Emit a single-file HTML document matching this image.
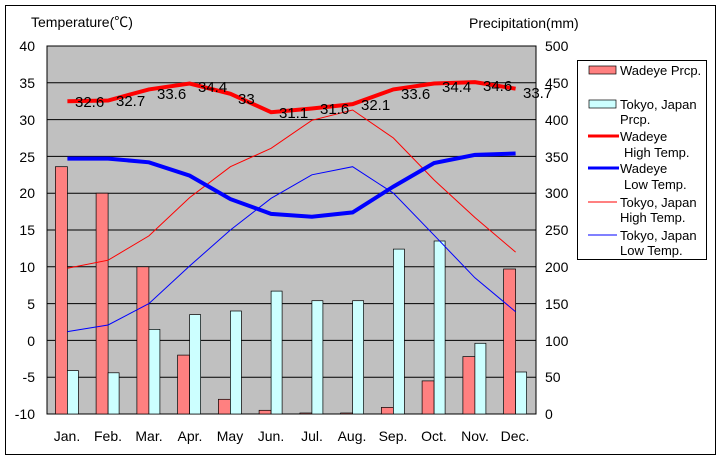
<!DOCTYPE html>
<html><head><meta charset="utf-8"><style>
body{margin:0;background:#fff}
svg{display:block}
text{font-family:"Liberation Sans","Noto Sans CJK JP",sans-serif;fill:#000}
</style></head><body>
<svg width="720" height="460" xmlns="http://www.w3.org/2000/svg">
<rect x="5.5" y="5.5" width="710" height="449" fill="#fff" stroke="#000" stroke-width="1"/>
<rect x="47" y="46" width="489" height="368" fill="#c0c0c0" stroke="#000" stroke-width="1"/>
<g stroke="#000" stroke-width="1">
<line x1="47" y1="82.8" x2="536" y2="82.8"/><line x1="47" y1="119.6" x2="536" y2="119.6"/>
<line x1="47" y1="156.4" x2="536" y2="156.4"/><line x1="47" y1="193.2" x2="536" y2="193.2"/>
<line x1="47" y1="230" x2="536" y2="230"/><line x1="47" y1="266.8" x2="536" y2="266.8"/>
<line x1="47" y1="303.6" x2="536" y2="303.6"/><line x1="47" y1="340.4" x2="536" y2="340.4"/>
<line x1="47" y1="377.2" x2="536" y2="377.2"/>
</g>
<g font-size="14" text-anchor="end">
<text x="35" y="51">40</text><text x="35" y="88">35</text><text x="35" y="125">30</text><text x="35" y="162">25</text><text x="35" y="198">20</text><text x="35" y="235">15</text><text x="35" y="272">10</text><text x="35" y="309">5</text><text x="35" y="346">0</text><text x="35" y="382">-5</text><text x="35" y="419">-10</text>
</g>
<g font-size="14">
<text x="545" y="51">500</text><text x="545" y="88">450</text><text x="545" y="125">400</text><text x="545" y="162">350</text><text x="545" y="198">300</text><text x="545" y="235">250</text><text x="545" y="272">200</text><text x="545" y="309">150</text><text x="545" y="346">100</text><text x="545" y="382">50</text><text x="545" y="419">0</text>
</g>
<text x="31" y="27" font-size="14">Temperature(℃)</text>
<text x="469" y="28" font-size="14">Precipitation(mm)</text>
<g font-size="14" text-anchor="middle">
<text x="67" y="441">Jan.</text><text x="108" y="441">Feb.</text><text x="149" y="441">Mar.</text><text x="190" y="441">Apr.</text><text x="230" y="441">May</text><text x="271" y="441">Jun.</text><text x="312" y="441">Jul.</text><text x="352" y="441">Aug.</text><text x="393" y="441">Sep.</text><text x="434" y="441">Oct.</text><text x="475" y="441">Nov.</text><text x="515" y="441">Dec.</text>
</g>
<g id="bars" stroke="#000" stroke-width="0.7">
<rect x="55.4" y="166.7" width="12" height="247.3" fill="#ff8080"/>
<rect x="96.1" y="193.2" width="12" height="220.8" fill="#ff8080"/>
<rect x="136.9" y="266.8" width="12" height="147.2" fill="#ff8080"/>
<rect x="177.6" y="355.1" width="12" height="58.9" fill="#ff8080"/>
<rect x="218.4" y="399.3" width="12" height="14.7" fill="#ff8080"/>
<rect x="259.1" y="410.3" width="12" height="3.7" fill="#ff8080"/>
<rect x="299.9" y="413" width="12" height="1" fill="#ff8080"/>
<rect x="340.6" y="413" width="12" height="1" fill="#ff8080"/>
<rect x="381.4" y="407.4" width="12" height="6.6" fill="#ff8080"/>
<rect x="422.1" y="380.9" width="12" height="33.1" fill="#ff8080"/>
<rect x="462.9" y="356.6" width="12" height="57.4" fill="#ff8080"/>
<rect x="503.6" y="269" width="12" height="145" fill="#ff8080"/>
<rect x="67.4" y="370.6" width="11" height="43.4" fill="#ccffff"/>
<rect x="108.1" y="372.8" width="11" height="41.2" fill="#ccffff"/>
<rect x="148.9" y="329.4" width="11" height="84.6" fill="#ccffff"/>
<rect x="189.6" y="314.6" width="11" height="99.4" fill="#ccffff"/>
<rect x="230.4" y="311" width="11" height="103" fill="#ccffff"/>
<rect x="271.1" y="291.1" width="11" height="122.9" fill="#ccffff"/>
<rect x="311.9" y="300.7" width="11" height="113.3" fill="#ccffff"/>
<rect x="352.6" y="300.7" width="11" height="113.3" fill="#ccffff"/>
<rect x="393.4" y="249.1" width="11" height="164.9" fill="#ccffff"/>
<rect x="434.1" y="241" width="11" height="173" fill="#ccffff"/>
<rect x="474.9" y="343.3" width="11" height="70.7" fill="#ccffff"/>
<rect x="515.6" y="372" width="11" height="42" fill="#ccffff"/>
</g>
<polyline fill="none" stroke="#ff0000" stroke-width="1" points="67.4,268.3 108.1,260.2 148.9,235.9 189.6,197.6 230.4,166.7 271.1,148.3 311.9,120.3 352.6,110 393.4,138 434.1,180 474.9,217.5 515.6,252.1"/>
<polyline fill="none" stroke="#0000ff" stroke-width="1" points="67.4,331.6 108.1,325 148.9,303.6 189.6,266 230.4,230 271.1,198.3 311.9,174.8 352.6,166.7 393.4,193.2 434.1,235.2 474.9,277.8 515.6,311.7"/>
<polyline fill="none" stroke="#ff0000" stroke-width="4" points="67.4,101.2 108.1,100.5 148.9,89.4 189.6,83.5 230.4,93.8 271.1,112.2 311.9,108.5 352.6,104.1 393.4,89.4 434.1,83.5 474.9,82.1 515.6,88.7"/>
<polyline fill="none" stroke="#0000ff" stroke-width="4" points="67.4,158.6 108.1,158.6 148.9,162.3 189.6,175.6 230.4,199.1 271.1,213.9 311.9,216.8 352.6,212.4 393.4,186.6 434.1,163 474.9,154.9 515.6,153.5"/>
<g font-size="15">
<text x="75" y="107">32.6</text><text x="116" y="106">32.7</text><text x="157" y="99">33.6</text><text x="198" y="92">34.4</text><text x="238" y="104">33</text><text x="279" y="118">31.1</text><text x="320" y="114">31.6</text><text x="361" y="110">32.1</text><text x="401" y="99">33.6</text><text x="442" y="92">34.4</text><text x="483" y="91">34.6</text><text x="523" y="98">33.7</text>
</g>
<rect x="577.5" y="60.5" width="129" height="199" fill="#fff" stroke="#000" stroke-width="1"/>
<g font-size="13">
<rect x="589" y="66" width="27" height="8" fill="#ff8080" stroke="#000" stroke-width="0.7"/>
<text x="620" y="75">Wadeye Prcp.</text>
<rect x="589" y="100" width="27" height="8" fill="#ccffff" stroke="#000" stroke-width="0.7"/>
<text x="620" y="109">Tokyo, Japan</text><text x="620" y="124">Prcp.</text>
<line x1="588" y1="136" x2="619" y2="136" stroke="#ff0000" stroke-width="3"/>
<text x="620" y="141">Wadeye</text><text x="624" y="157">High Temp.</text>
<line x1="588" y1="168" x2="619" y2="168" stroke="#0000ff" stroke-width="3"/>
<text x="620" y="173">Wadeye</text><text x="624" y="189">Low Temp.</text>
<line x1="588" y1="202" x2="617" y2="202" stroke="#ff0000" stroke-width="1"/>
<text x="620" y="207">Tokyo, Japan</text><text x="620" y="222">High Temp.</text>
<line x1="588" y1="235" x2="617" y2="235" stroke="#0000ff" stroke-width="1"/>
<text x="620" y="240">Tokyo, Japan</text><text x="620" y="255">Low Temp.</text>
</g>
</svg>
</body></html>
